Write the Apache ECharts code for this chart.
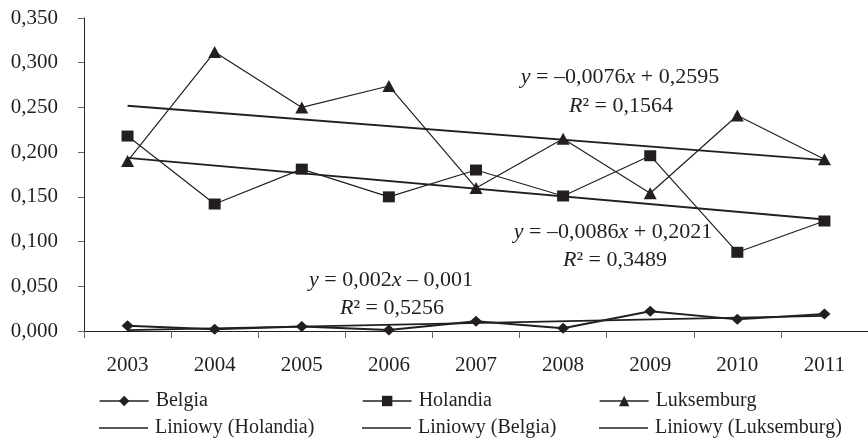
<!DOCTYPE html>
<html>
<head>
<meta charset="utf-8">
<script src="https://cdn.jsdelivr.net/npm/echarts@6/dist/echarts.min.js"></script>
<style>html,body{margin:0;padding:0;background:#fff}#c{width:868px;height:438px}</style>
</head>
<body>
<div id="c"></div>
<script>
const categories = ['2003','2004','2005','2006','2007','2008','2009','2010','2011'];
const belgia     = [0.006, 0.002, 0.005, 0.001, 0.011, 0.003, 0.022, 0.013, 0.019];
const holandia   = [0.218, 0.142, 0.181, 0.150, 0.180, 0.151, 0.196, 0.088, 0.123];
const luksemburg = [0.190, 0.312, 0.250, 0.274, 0.160, 0.215, 0.154, 0.241, 0.192];
// trend line endpoints (2003, 2011)
const trendNames = ['Liniowy (Holandia)', 'Liniowy (Belgia)', 'Liniowy (Luksemburg)'];
const trendStart = [0.1935, 0.001, 0.2519];
const trendEnd   = [0.1247, 0.017, 0.1911];
const yTicks = [0, 0.05, 0.1, 0.15, 0.2, 0.25, 0.3, 0.35];

const INK = '#231f20';
const FONT = '"Liberation Serif", "DejaVu Serif", serif';
const FS = 21;
const AFS = 22;

function trendData(i) {
  const d = categories.map(() => null);
  d[0] = trendStart[i];
  d[d.length - 1] = trendEnd[i];
  return d;
}

const chart = echarts.init(document.getElementById('c'));

const legendPos = [
  {name: 'Belgia', left: 99, top: 391, line: false},
  {name: 'Holandia', left: 362, top: 391, line: false},
  {name: 'Luksemburg', left: 599, top: 391, line: false},
  {name: 'Liniowy (Holandia)', left: 99, top: 418, line: true},
  {name: 'Liniowy (Belgia)', left: 362, top: 418, line: true},
  {name: 'Liniowy (Luksemburg)', left: 599, top: 418, line: true}
];

const rich = {
  i: {fontStyle: 'italic', fontFamily: FONT, fontSize: AFS, fill: INK, color: INK},
  n: {fontFamily: FONT, fontSize: AFS, fill: INK, color: INK}
};
function ann(text, x, y) {
  return {
    type: 'text', x: x, y: y, z: 100,
    style: {text: text, rich: rich, font: AFS + 'px ' + FONT, fill: INK, align: 'center', verticalAlign: 'middle'}
  };
}

const option = {
  animation: false,
  backgroundColor: '#fff',
  textStyle: {fontFamily: FONT, color: INK},
  grid: {left: 84, top: 18, width: 786, height: 313, containLabel: false},
  xAxis: {
    type: 'category',
    data: categories,
    boundaryGap: true,
    axisLine: {lineStyle: {color: INK, width: 1}},
    axisTick: {show: true, length: 7, lineStyle: {color: '#666'}},
    axisLabel: {color: INK, fontFamily: FONT, fontSize: FS, margin: 24}
  },
  yAxis: {
    type: 'value',
    min: yTicks[0],
    max: yTicks[yTicks.length - 1],
    interval: yTicks[1] - yTicks[0],
    splitLine: {show: false},
    axisLine: {show: true, lineStyle: {color: INK, width: 1}},
    axisTick: {show: true, length: 6, lineStyle: {color: '#666'}},
    axisLabel: {color: INK, fontFamily: FONT, fontSize: FS, margin: 26,
      formatter: v => v.toFixed(3).replace('.', ',')}
  },
  legend: legendPos.map(p => ({
    data: p.line ? [{name: p.name, icon: 'rect'}] : [p.name],
    left: p.left, top: p.top, orient: 'horizontal',
    itemWidth: 49, itemHeight: p.line ? 1.6 : 13, padding: 0,
    selectedMode: false,
    lineStyle: {width: 1.3},
    textStyle: {color: INK, fontFamily: FONT, fontSize: 20, padding: [0, 0, 0, 2]}
  })),
  series: [
    {name: 'Belgia', type: 'line', data: belgia, symbol: 'diamond', symbolSize: [12, 11],
      lineStyle: {color: INK, width: 2}, itemStyle: {color: INK}, z: 5},
    {name: 'Holandia', type: 'line', data: holandia, symbol: 'rect', symbolSize: [12, 11],
      lineStyle: {color: INK, width: 1.2}, itemStyle: {color: INK}, z: 5},
    {name: 'Luksemburg', type: 'line', data: luksemburg, symbol: 'triangle', symbolSize: [13, 12],
      lineStyle: {color: INK, width: 1.2}, itemStyle: {color: INK}, z: 5},
    ...trendNames.map((n, i) => ({
      name: n, type: 'line', data: trendData(i), connectNulls: true, symbol: 'none',
      lineStyle: {color: INK, width: 1.8}, itemStyle: {color: INK}, z: 3
    }))
  ],
  graphic: [
    ann('{i|y}{n| = –0,0076}{i|x}{n| + 0,2595}', 620, 77),
    ann('{i|R}{n|² = 0,1564}', 621, 106),
    ann('{i|y}{n| = –0,0086}{i|x}{n| + 0,2021}', 613, 232),
    ann('{i|R}{n|² = 0,3489}', 615, 260),
    ann('{i|y}{n| = 0,002}{i|x}{n| – 0,001}', 391, 280),
    ann('{i|R}{n|² = 0,5256}', 392, 308)
  ]
};
chart.setOption(option);
</script>
</body>
</html>
